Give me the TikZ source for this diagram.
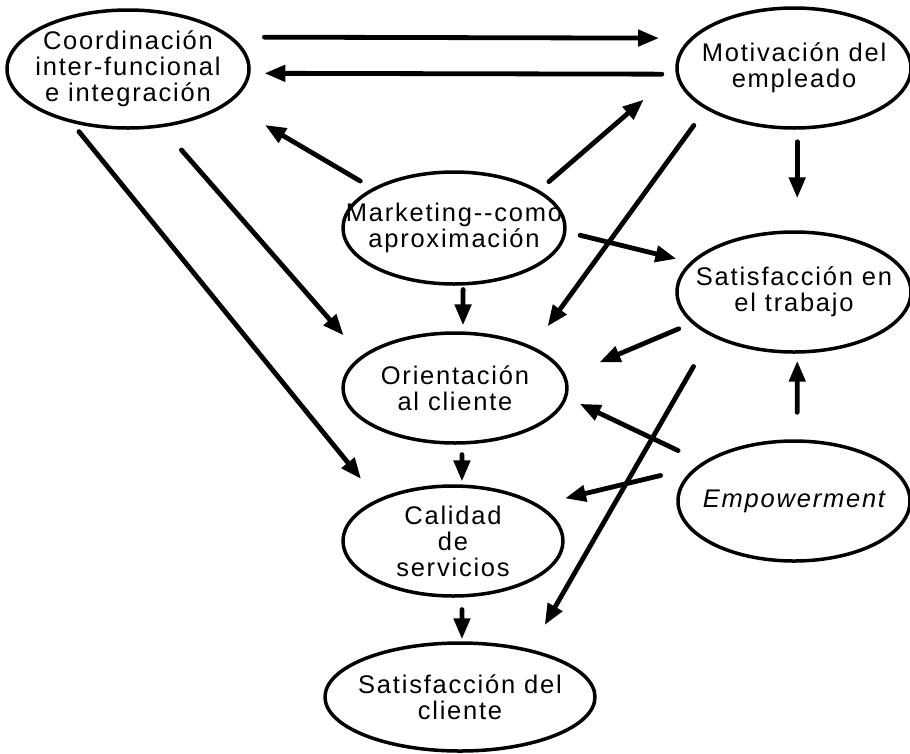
\documentclass[tikz,border=0pt]{standalone}
\usepackage{fontspec}
\setmainfont{Liberation Sans}[LetterSpace=7]
\usetikzlibrary{arrows.meta}
\usetikzlibrary{shapes.geometric}

\tikzset{
  oval/.style={draw, ellipse, line width=3.5pt, inner sep=-30pt, align=center,
    font=\fontsize{25.5}{26}\selectfont},
  arr/.style={line width=4.8pt, -{Triangle[length=21pt,width=16pt]}}
}

\begin{document}
\begin{tikzpicture}[line cap=round,line join=round,x=1pt,y=-1pt]
\useasboundingbox (0,0) rectangle (910,753);
%\draw (0,0) rectangle (910,753);
\node [oval, minimum width=242pt, minimum height=118pt] (coord) at (128,69) {Coordinación\\inter-funcional\\e integración};
\node [oval, minimum width=234pt, minimum height=120pt] (motiv) at (794,68) {Motivación del\\empleado};
\node [oval, minimum width=222pt, minimum height=112pt] (mkt) at (454,228) {Marketing-{}-como\\aproximación};
\node [oval, minimum width=234pt, minimum height=120pt] (trab) at (794,292) {Satisfacción en\\el trabajo};
\node [oval, minimum width=224pt, minimum height=110pt] (orient) at (455,388) {Orientación\\al cliente};
\node [oval, minimum width=232pt, minimum height=120pt] (empow) at (794,501) {\itshape Empowerment};
\node [oval, minimum width=220pt, minimum height=110pt] (calid) at (453,541) {Calidad\\de\\servicios};
\node [oval, minimum width=270pt, minimum height=108pt] (satcli) at (460,697) {Satisfacción del\\cliente};
%top pair
\draw [arr, shorten <=32pt, shorten >=31pt] (coord.17)-- (motiv.164);
\draw [arr, shorten <=14pt, shorten >=14pt] (motiv.183)-- (coord.-2);
%from marketing
\draw [arr, shorten <=14pt, shorten >=42pt] (mkt.154)-- (coord.-19);
\draw [arr, shorten <=13pt, shorten >=42pt] (mkt.24)-- (motiv.182);
\draw [arr, shorten <=14pt, shorten >=14pt] (mkt.-2)-- (trab.164);
\draw [arr, shorten <=4pt, shorten >=6pt] (mkt.-81)-- (orient.82);
%from motivacion
\draw [arr, shorten <=20pt, shorten >=25pt] (motiv.-155)-- (orient.28);
\draw [arr, shorten <=12pt, shorten >=32pt] (motiv.-87)-- (trab.87);
%from coordinacion
\draw [arr, shorten <=30pt, shorten >=27pt] (coord.-60)-- (orient.161);
\draw [arr, shorten <=11pt, shorten >=26pt] (coord.-136)-- (calid.151);
%from satisfaccion en el trabajo
\draw [arr, shorten <=14pt, shorten >=36pt] (trab.-163)-- (orient.6);
\draw [arr, shorten <=35pt, shorten >=28pt] (trab.-152)-- (satcli.34);
%from empowerment
\draw [arr, shorten <=27pt, shorten >=7pt] (empow.87)-- (trab.-87);
\draw [arr, shorten <=27pt, shorten >=14pt] (empow.157)-- (orient.-5);
\draw [arr, shorten <=36pt, shorten >=27pt] (empow.161)-- (calid.23);
%down the middle
\draw [arr, shorten <=10pt, shorten >=3pt] (orient.-83)-- (calid.81);
\draw [arr, shorten <=12pt, shorten >=2pt] (calid.-81)-- (satcli.88);
\end{tikzpicture}
\end{document}
